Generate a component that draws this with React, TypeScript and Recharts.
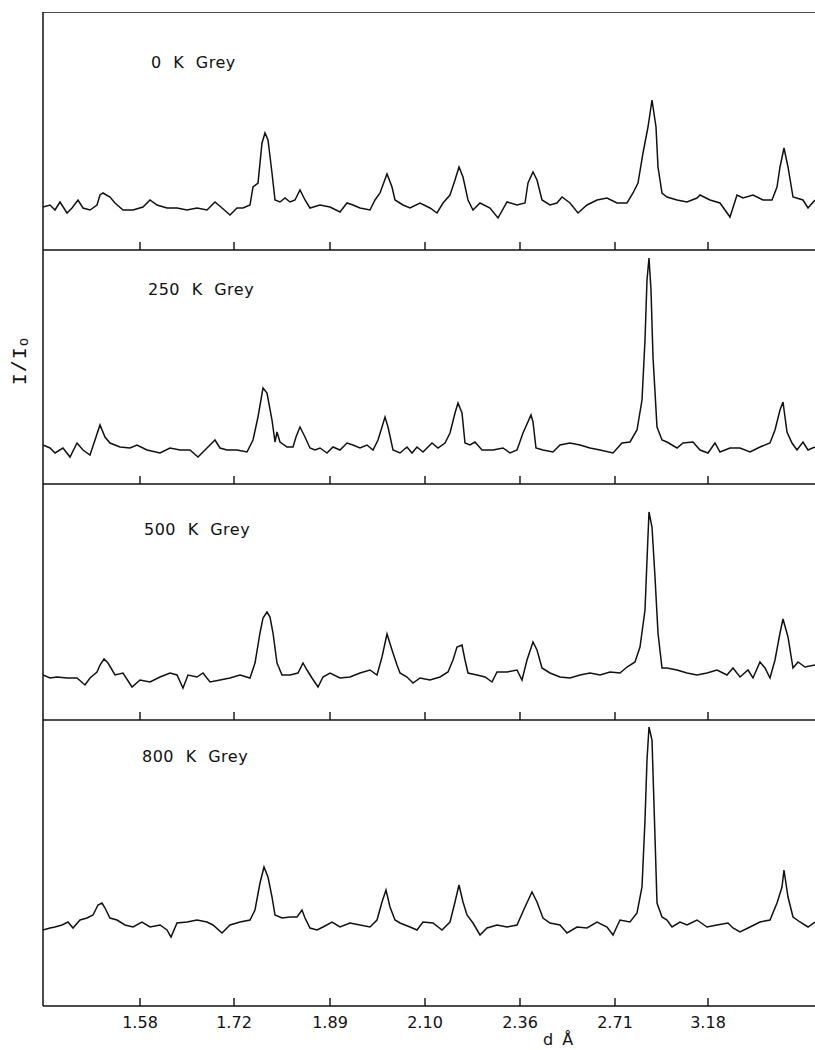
import React from 'react';
import { LineChart, Line, XAxis, YAxis, ReferenceLine } from 'recharts';

// scan channel positions of the d-spacing ticks, and their labels
const tickChannels = [97, 191, 287, 382, 477, 572, 665];
const tickLabels = ['1.58', '1.72', '1.89', '2.10', '2.36', '2.71', '3.18'];

// [channel, counts]
const scan0K: [number, number][] = [
  [0, 43], [7, 45], [12, 40], [17, 48], [24, 37], [29, 42], [35, 50], [40, 42], [47, 40], [54, 45],
  [57, 55], [60, 57], [67, 53], [72, 47], [80, 40], [90, 40], [100, 43], [107, 50], [114, 45], [124, 42],
  [134, 42], [144, 40], [154, 42], [164, 40], [172, 48], [179, 42], [187, 35], [194, 42], [200, 42], [207, 45],
  [210, 63], [215, 67], [219, 107], [222, 117], [225, 110], [229, 77], [232, 50], [237, 48], [242, 52], [247, 48],
  [252, 50], [257, 60], [262, 50], [267, 42], [277, 45], [287, 43], [297, 38], [304, 47], [310, 45], [317, 42],
  [327, 40], [332, 50], [337, 57], [344, 76], [349, 63], [352, 50], [360, 45], [367, 42], [377, 47], [387, 42],
  [394, 37], [400, 47], [407, 55], [412, 70], [416, 83], [420, 73], [425, 50], [430, 40], [437, 47], [447, 42],
  [455, 32], [464, 48], [474, 45], [482, 47], [485, 67], [490, 78], [494, 70], [499, 50], [507, 45], [514, 47],
  [519, 53], [527, 47], [535, 37], [544, 45], [554, 50], [564, 52], [574, 47], [584, 47], [590, 57], [595, 67],
  [600, 97], [605, 123], [609, 150], [613, 123], [615, 83], [619, 57], [624, 53], [634, 50], [644, 48], [654, 52],
  [657, 55], [667, 50], [677, 47], [687, 33], [694, 55], [700, 52], [710, 55], [720, 50], [729, 50], [734, 63],
  [737, 83], [741, 102], [745, 83], [750, 53], [760, 50], [765, 42], [772, 50],
];

const scan250K: [number, number][] = [
  [0, 39], [7, 36], [12, 31], [20, 36], [27, 27], [34, 41], [40, 34], [47, 29], [52, 44], [57, 59],
  [62, 47], [67, 41], [77, 37], [87, 36], [94, 39], [104, 34], [117, 31], [127, 36], [137, 34], [147, 34],
  [155, 27], [164, 36], [172, 44], [177, 36], [184, 34], [194, 34], [204, 32], [210, 44], [215, 67], [220, 96],
  [224, 91], [229, 64], [232, 42], [234, 52], [237, 42], [244, 37], [250, 37], [253, 47], [257, 57], [262, 47],
  [267, 36], [272, 34], [277, 36], [284, 31], [290, 37], [297, 34], [304, 41], [310, 39], [317, 36], [324, 39],
  [330, 34], [335, 44], [339, 57], [342, 67], [345, 57], [350, 34], [357, 31], [364, 37], [369, 31], [374, 37],
  [380, 32], [389, 41], [395, 36], [402, 41], [407, 51], [412, 71], [415, 81], [419, 71], [422, 41], [427, 39],
  [432, 42], [439, 34], [450, 34], [460, 36], [467, 31], [474, 34], [480, 51], [488, 69], [490, 62], [493, 36],
  [500, 34], [510, 32], [517, 39], [527, 41], [537, 39], [547, 36], [557, 34], [570, 31], [579, 41], [587, 42],
  [594, 54], [599, 84], [602, 144], [604, 204], [606, 226], [608, 194], [610, 127], [614, 57], [619, 44], [624, 42],
  [634, 36], [640, 41], [650, 42], [657, 34], [665, 31], [672, 41], [677, 32], [687, 36], [697, 36], [707, 32],
  [717, 37], [727, 41], [732, 54], [737, 74], [740, 82], [744, 52], [749, 41], [754, 34], [760, 42], [765, 34],
  [772, 37],
];

const scan500K: [number, number][] = [
  [0, 45], [7, 42], [14, 43], [24, 42], [34, 42], [42, 35], [47, 42], [54, 48], [57, 55], [61, 61],
  [65, 57], [72, 45], [80, 47], [89, 33], [97, 40], [107, 38], [117, 43], [127, 47], [134, 45], [140, 32],
  [145, 45], [154, 43], [160, 47], [167, 38], [177, 40], [187, 42], [197, 45], [207, 42], [212, 57], [217, 87],
  [220, 102], [224, 108], [227, 103], [230, 87], [234, 57], [239, 45], [247, 45], [255, 47], [260, 57], [264, 50],
  [269, 42], [275, 33], [280, 43], [287, 47], [297, 42], [307, 43], [317, 47], [327, 50], [334, 45], [339, 63],
  [344, 86], [349, 70], [354, 55], [357, 47], [364, 43], [370, 37], [377, 42], [387, 40], [397, 43], [405, 48],
  [410, 60], [414, 73], [419, 75], [422, 60], [425, 47], [434, 45], [442, 43], [449, 38], [454, 48], [464, 48],
  [474, 50], [479, 40], [484, 60], [490, 78], [494, 70], [499, 52], [507, 47], [517, 43], [527, 42], [537, 45],
  [547, 47], [557, 45], [567, 48], [577, 47], [584, 53], [592, 58], [597, 73], [602, 110], [604, 160], [606, 208],
  [609, 193], [612, 143], [615, 87], [619, 52], [624, 52], [634, 50], [644, 47], [654, 45], [664, 47], [674, 50],
  [684, 45], [690, 52], [697, 43], [705, 50], [710, 42], [717, 58], [722, 52], [727, 42], [732, 60], [737, 87],
  [740, 101], [745, 83], [750, 52], [755, 58], [762, 53], [772, 55],
];

const scan800K: [number, number][] = [
  [0, 76], [7, 78], [12, 79], [19, 81], [25, 84], [30, 78], [37, 86], [44, 88], [50, 91], [55, 101],
  [59, 103], [62, 98], [67, 88], [74, 86], [82, 81], [90, 79], [99, 84], [107, 79], [117, 81], [124, 76],
  [128, 69], [134, 83], [144, 84], [154, 86], [164, 84], [170, 81], [179, 73], [187, 81], [197, 84], [207, 86],
  [212, 96], [217, 123], [221, 139], [225, 129], [229, 109], [232, 91], [239, 88], [247, 89], [254, 89], [259, 96],
  [262, 88], [267, 78], [274, 76], [280, 79], [289, 84], [297, 79], [307, 83], [317, 81], [327, 79], [334, 86],
  [339, 104], [343, 116], [347, 99], [352, 86], [357, 83], [367, 79], [374, 76], [380, 84], [390, 83], [399, 76],
  [407, 84], [412, 104], [416, 121], [420, 104], [424, 91], [430, 83], [437, 71], [444, 78], [454, 81], [464, 79],
  [474, 81], [482, 99], [489, 114], [494, 104], [500, 88], [507, 83], [517, 81], [524, 73], [534, 79], [544, 78],
  [554, 84], [564, 79], [570, 71], [577, 86], [587, 84], [594, 93], [599, 119], [602, 186], [604, 246], [606, 279],
  [609, 266], [612, 169], [614, 103], [619, 89], [624, 86], [629, 79], [637, 84], [644, 81], [654, 86], [664, 79],
  [674, 81], [685, 83], [690, 78], [697, 74], [707, 79], [717, 84], [727, 86], [734, 103], [739, 119], [741, 136],
  [745, 109], [750, 89], [757, 84], [765, 79], [772, 84],
];

const INK = '#111';
const FONT = '"DejaVu Sans", sans-serif';

const panels = [
  { name: '0 K Grey', data: scan0K, top: 12, height: 238, labelX: 151, labelY: 55 },
  { name: '250 K Grey', data: scan250K, top: 250, height: 234, labelX: 148, labelY: 282 },
  { name: '500 K Grey', data: scan500K, top: 484, height: 236, labelX: 144, labelY: 522 },
  { name: '800 K Grey', data: scan800K, top: 720, height: 286, labelX: 142, labelY: 749 },
];

const makeTick = (showLabel: boolean) => (props: any) => {
  const { x, y, payload } = props;
  const i = tickChannels.indexOf(payload.value);
  return (
    <g>
      <line x1={x} x2={x} y1={y} y2={y - 8} stroke={INK} strokeWidth={1.4} />
      {showLabel && (
        <text x={x} y={y + 22} textAnchor="middle" fontSize={16} fontFamily={FONT} fill={INK}>
          {tickLabels[i]}
        </text>
      )}
    </g>
  );
};

const Panel = ({ p, last, first }: { p: (typeof panels)[number]; last: boolean; first: boolean }) => {
  const rows = p.data.map(([ch, v]) => ({ ch, v }));
  const axisH = last ? 44 : 1;
  return (
    <div style={{ position: 'absolute', left: 0, top: p.top }}>
      <LineChart width={815} height={p.height + axisH} data={rows} margin={{ top: 0, right: 0, bottom: 0, left: 0 }}>
        <XAxis
          type="number"
          dataKey="ch"
          domain={[0, 772]}
          ticks={tickChannels}
          interval={0}
          allowDataOverflow
          height={axisH}
          tickSize={0}
          tickMargin={0}
          tickLine={false}
          tick={makeTick(last)}
          axisLine={{ stroke: INK, strokeWidth: 1.5 }}
        />
        <YAxis
          type="number"
          domain={[0, p.height]}
          allowDataOverflow
          width={43}
          tick={false}
          tickLine={false}
          axisLine={{ stroke: INK, strokeWidth: 1.5 }}
        />
        {first && <ReferenceLine y={p.height} stroke={INK} strokeWidth={1.5} />}
        <Line
          type="linear"
          dataKey="v"
          stroke={INK}
          strokeWidth={1.5}
          dot={false}
          isAnimationActive={false}
        />
      </LineChart>
    </div>
  );
};

const App = () => {
  return (
    <div
      style={{
        position: 'absolute',
        left: 0,
        top: 0,
        width: 815,
        height: 1050,
        overflow: 'hidden',
        background: '#fff',
      }}
    >
      {panels.map((p, i) => (
        <Panel key={p.name} p={p} first={i === 0} last={i === panels.length - 1} />
      ))}
      {panels.map((p) => (
        <div
          key={p.name + '-label'}
          style={{
            position: 'absolute',
            left: p.labelX,
            top: p.labelY,
            fontFamily: FONT,
            fontSize: 16,
            lineHeight: '16px',
            letterSpacing: 0.5,
            wordSpacing: 6,
            color: INK,
            whiteSpace: 'nowrap',
          }}
        >
          {p.name}
        </div>
      ))}
      <div
        style={{
          position: 'absolute',
          left: 543,
          top: 1032,
          fontFamily: FONT,
          fontSize: 16,
          lineHeight: '16px',
          wordSpacing: 4,
          color: INK,
        }}
      >
        d Å
      </div>
      <svg width={40} height={120} style={{ position: 'absolute', left: 0, top: 301 }}>
        <text
          x={20}
          y={60}
          transform="rotate(-90 20 60)"
          textAnchor="middle"
          dominantBaseline="central"
          fontFamily='"Liberation Mono", monospace'
          fontSize={20}
          letterSpacing={1}
          fill={INK}
        >
          I/I<tspan fontSize={14} dy={4}>o</tspan>
        </text>
      </svg>
    </div>
  );
};

export default App;
